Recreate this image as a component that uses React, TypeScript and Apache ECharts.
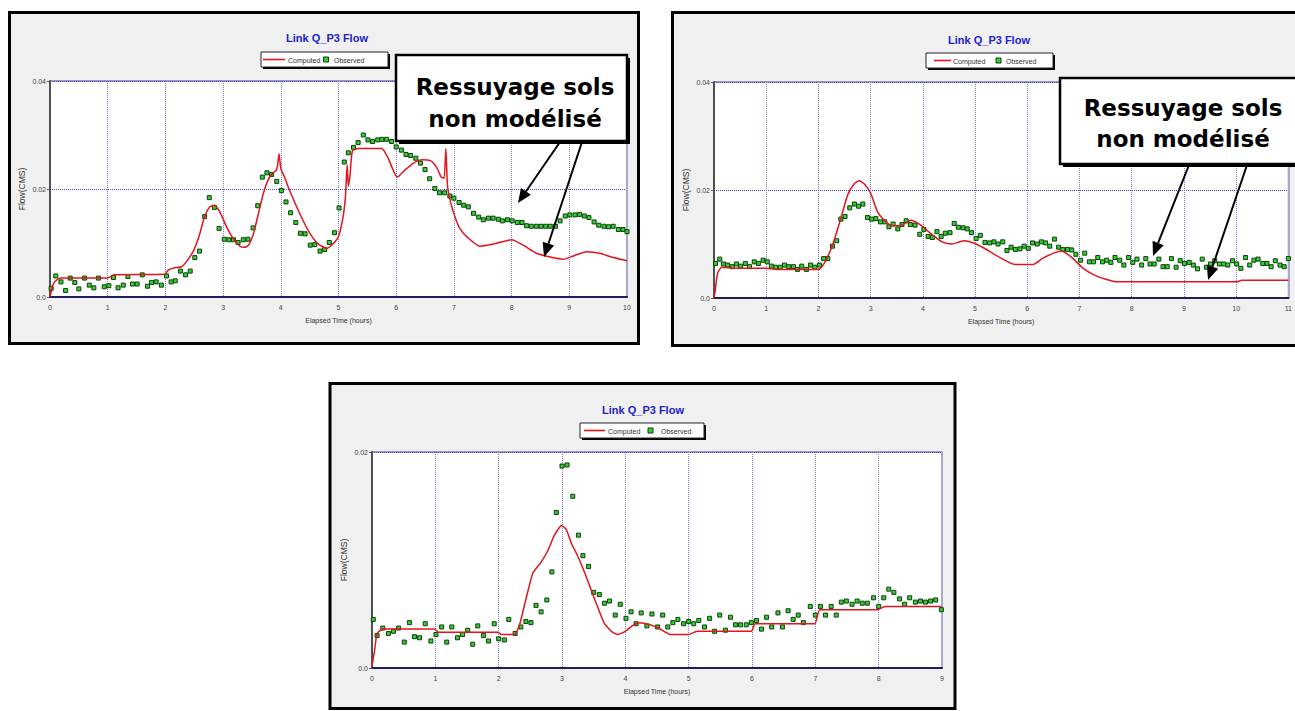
import React, { useEffect, useRef } from 'react';
import * as echarts from 'echarts';

const titleText = 'Link Q_P3 Flow';
const computedName = 'Computed';
const observedName = 'Observed';
const xAxisName = 'Elapsed Time (hours)';
const yAxisName = 'Flow(CMS)';
const noteLines = ['Ressuyage sols', 'non modélisé'];

const xMaxes = [10, 11, 9];
const yMaxes = [0.04, 0.04, 0.02];

// Chart 1 (top left)
const obs1 = [[0.02,0.0016],[0.1,0.0039],[0.19,0.0028],[0.27,0.0012],[0.35,0.0035],[0.43,0.0027],[0.5,0.0015],[0.6,0.0035],[0.68,0.0022],[0.76,0.0017],[0.84,0.0035],[0.94,0.0019],[1.02,0.0021],[1.1,0.0036],[1.18,0.0017],[1.27,0.0022],[1.35,0.0038],[1.43,0.0024],[1.51,0.0024],[1.6,0.0041],[1.69,0.002],[1.76,0.0027],[1.84,0.0028],[1.93,0.0022],[2.02,0.0039],[2.1,0.0028],[2.17,0.003],[2.26,0.0048],[2.35,0.0041],[2.43,0.0048],[2.51,0.0073],[2.59,0.0085],[2.68,0.0149],[2.76,0.0184],[2.85,0.0166],[2.93,0.0127],[3.02,0.0107],[3.1,0.0106],[3.18,0.0106],[3.26,0.0101],[3.35,0.0106],[3.43,0.0107],[3.52,0.0128],[3.6,0.0169],[3.68,0.0222],[3.76,0.023],[3.84,0.0227],[3.93,0.0214],[4.01,0.0197],[4.09,0.0176],[4.17,0.0156],[4.26,0.0138],[4.34,0.0118],[4.42,0.0117],[4.51,0.0096],[4.59,0.0097],[4.68,0.0085],[4.76,0.0088],[4.84,0.0101],[4.93,0.0119],[5.01,0.0165],[5.1,0.025],[5.17,0.0267],[5.26,0.0277],[5.34,0.0286],[5.43,0.03],[5.51,0.0291],[5.59,0.0288],[5.68,0.0291],[5.75,0.0292],[5.83,0.0292],[5.92,0.0288],[6.0,0.0278],[6.09,0.0272],[6.17,0.0264],[6.25,0.0262],[6.34,0.0257],[6.42,0.0248],[6.5,0.0236],[6.58,0.0219],[6.67,0.0201],[6.75,0.0193],[6.84,0.0193],[6.93,0.0187],[7.0,0.0183],[7.09,0.0175],[7.17,0.017],[7.25,0.0167],[7.34,0.0155],[7.43,0.0148],[7.51,0.0143],[7.6,0.0146],[7.68,0.0146],[7.77,0.0144],[7.84,0.0141],[7.93,0.0143],[8.01,0.0141],[8.1,0.0138],[8.18,0.0138],[8.26,0.0132],[8.34,0.0131],[8.43,0.0131],[8.51,0.0131],[8.59,0.0131],[8.67,0.0131],[8.76,0.0131],[8.84,0.0141],[8.93,0.015],[9.01,0.0152],[9.1,0.0152],[9.18,0.0153],[9.26,0.015],[9.34,0.0147],[9.43,0.0139],[9.51,0.0133],[9.6,0.0131],[9.68,0.013],[9.76,0.0131],[9.85,0.0125],[9.93,0.0125],[10.0,0.0121]];
const comp1 = [[0,0],[0.05,0.0022],[0.11,0.0031],[0.2,0.0035],[1.0,0.0035],[1.11,0.0041],[1.99,0.0042],[2.05,0.005],[2.16,0.0054],[2.28,0.0056],[2.36,0.0065],[2.48,0.0084],[2.59,0.0115],[2.68,0.0149],[2.77,0.0167],[2.85,0.017],[2.94,0.0158],[3.06,0.013],[3.17,0.0109],[3.29,0.0094],[3.37,0.0092],[3.44,0.0096],[3.52,0.0115],[3.6,0.0149],[3.69,0.0189],[3.78,0.0217],[3.86,0.0229],[3.93,0.0236],[3.97,0.0265],[4.0,0.0238],[4.06,0.0223],[4.15,0.0198],[4.3,0.0161],[4.47,0.0124],[4.64,0.0099],[4.8,0.009],[4.91,0.0099],[5.0,0.0112],[5.08,0.0149],[5.12,0.0185],[5.15,0.0245],[5.17,0.0205],[5.2,0.0225],[5.24,0.027],[5.34,0.0275],[5.75,0.0275],[5.86,0.0257],[6.02,0.0222],[6.15,0.0235],[6.3,0.0248],[6.45,0.0254],[6.6,0.0252],[6.7,0.024],[6.78,0.0222],[6.83,0.022],[6.86,0.0275],[6.89,0.0205],[6.95,0.0172],[7.02,0.0148],[7.1,0.0127],[7.25,0.0109],[7.45,0.0094],[7.68,0.0098],[8.0,0.0106],[8.2,0.0096],[8.43,0.0081],[8.67,0.0074],[8.9,0.007],[9.07,0.0076],[9.3,0.0084],[9.53,0.0081],[9.73,0.0074],[10.0,0.0067]];

// Chart 2 (top right)
const obs2 = [[0.03,0.0064],[0.11,0.0072],[0.18,0.0063],[0.26,0.0061],[0.35,0.0058],[0.43,0.0063],[0.51,0.0059],[0.6,0.0064],[0.68,0.0058],[0.77,0.0067],[0.85,0.0064],[0.94,0.007],[1.02,0.0067],[1.1,0.0059],[1.18,0.0057],[1.27,0.0057],[1.35,0.0061],[1.43,0.0058],[1.52,0.0058],[1.6,0.0053],[1.68,0.0059],[1.77,0.0053],[1.85,0.0061],[1.93,0.0057],[2.02,0.0061],[2.1,0.0073],[2.18,0.0073],[2.27,0.0096],[2.35,0.0106],[2.43,0.0146],[2.51,0.0151],[2.6,0.0167],[2.69,0.0174],[2.77,0.017],[2.85,0.0174],[2.94,0.0149],[3.02,0.0146],[3.1,0.0147],[3.19,0.0141],[3.27,0.0141],[3.35,0.0132],[3.43,0.0137],[3.52,0.0128],[3.6,0.0136],[3.68,0.0143],[3.76,0.0136],[3.85,0.0135],[3.94,0.0118],[4.02,0.0127],[4.1,0.0114],[4.18,0.0112],[4.27,0.0123],[4.35,0.0114],[4.43,0.012],[4.52,0.0121],[4.6,0.0138],[4.68,0.0131],[4.77,0.013],[4.85,0.0128],[4.93,0.0121],[5.02,0.011],[5.1,0.0116],[5.19,0.0103],[5.28,0.0102],[5.36,0.0104],[5.44,0.01],[5.53,0.0104],[5.61,0.0088],[5.69,0.0094],[5.77,0.009],[5.86,0.0091],[5.94,0.0096],[6.02,0.0092],[6.1,0.0102],[6.19,0.01],[6.27,0.0104],[6.35,0.0102],[6.43,0.0096],[6.52,0.0109],[6.6,0.0094],[6.68,0.009],[6.77,0.009],[6.85,0.0089],[6.93,0.0081],[7.02,0.007],[7.1,0.0083],[7.19,0.0067],[7.27,0.0067],[7.35,0.0075],[7.44,0.0067],[7.52,0.007],[7.6,0.0066],[7.68,0.0075],[7.77,0.007],[7.85,0.0061],[7.94,0.0075],[8.02,0.0066],[8.1,0.0072],[8.19,0.0061],[8.27,0.0073],[8.35,0.0063],[8.43,0.0063],[8.52,0.0072],[8.6,0.0058],[8.68,0.0058],[8.76,0.0073],[8.85,0.0057],[8.93,0.0069],[9.01,0.0064],[9.1,0.0066],[9.18,0.0061],[9.26,0.0054],[9.35,0.0072],[9.43,0.0057],[9.51,0.0063],[9.59,0.0069],[9.68,0.0063],[9.76,0.0063],[9.84,0.0061],[9.93,0.0069],[10.01,0.0063],[10.09,0.0055],[10.18,0.0075],[10.26,0.0061],[10.34,0.007],[10.42,0.0072],[10.51,0.0064],[10.59,0.0064],[10.67,0.0058],[10.75,0.0069],[10.84,0.0061],[10.92,0.0058],[11.0,0.0073]];
const comp2 = [[0,0],[0.02,0.0012],[0.07,0.0046],[0.15,0.0057],[0.43,0.0055],[1.0,0.0055],[1.19,0.0053],[2.0,0.0053],[2.11,0.0064],[2.27,0.0098],[2.43,0.0148],[2.56,0.0191],[2.69,0.0212],[2.78,0.0217],[2.88,0.0211],[3.0,0.0194],[3.13,0.016],[3.26,0.0144],[3.42,0.0134],[3.6,0.0135],[3.77,0.0144],[3.96,0.0135],[4.18,0.0117],[4.37,0.0104],[4.56,0.01],[4.78,0.0106],[4.97,0.0102],[5.16,0.0093],[5.42,0.0078],[5.77,0.0062],[6.11,0.0062],[6.3,0.0074],[6.53,0.0084],[6.65,0.0087],[6.84,0.0076],[7.07,0.0055],[7.32,0.0041],[7.57,0.0033],[7.73,0.003],[10.02,0.003],[10.11,0.0033],[11.0,0.0033]];

// Chart 3 (bottom)
const obs3 = [[0.02,0.0045],[0.08,0.003],[0.17,0.0037],[0.26,0.0032],[0.34,0.0034],[0.42,0.0037],[0.51,0.0024],[0.59,0.0042],[0.67,0.0029],[0.75,0.0028],[0.84,0.0041],[0.93,0.0025],[1.01,0.0031],[1.1,0.0038],[1.18,0.0024],[1.26,0.0038],[1.35,0.0028],[1.43,0.0031],[1.51,0.0035],[1.59,0.0022],[1.67,0.0039],[1.76,0.003],[1.84,0.0025],[1.93,0.0041],[2.0,0.0027],[2.09,0.0026],[2.16,0.0045],[2.26,0.0032],[2.35,0.0038],[2.43,0.0043],[2.51,0.0042],[2.59,0.0058],[2.67,0.0052],[2.76,0.0063],[2.84,0.0089],[2.91,0.0144],[3.0,0.0187],[3.08,0.0188],[3.17,0.0159],[3.26,0.0123],[3.33,0.0104],[3.42,0.0094],[3.5,0.007],[3.59,0.0068],[3.67,0.006],[3.75,0.0062],[3.84,0.0049],[3.92,0.0059],[4.01,0.0046],[4.09,0.0052],[4.17,0.0041],[4.25,0.0051],[4.34,0.0039],[4.42,0.005],[4.51,0.0038],[4.59,0.0049],[4.67,0.0038],[4.75,0.0042],[4.83,0.0045],[4.92,0.0041],[5.0,0.0043],[5.08,0.0041],[5.16,0.0044],[5.25,0.0038],[5.33,0.0046],[5.41,0.0034],[5.49,0.0049],[5.58,0.0035],[5.66,0.0047],[5.74,0.004],[5.82,0.004],[5.91,0.004],[5.99,0.0042],[6.07,0.0044],[6.15,0.0036],[6.23,0.0047],[6.31,0.0038],[6.41,0.0051],[6.48,0.0038],[6.57,0.0053],[6.65,0.0045],[6.73,0.0049],[6.81,0.0042],[6.92,0.0057],[7.0,0.0049],[7.08,0.0057],[7.16,0.0049],[7.25,0.0057],[7.33,0.0049],[7.41,0.0061],[7.49,0.0062],[7.58,0.0059],[7.66,0.0062],[7.74,0.006],[7.82,0.006],[7.92,0.0065],[8.0,0.0057],[8.08,0.0065],[8.16,0.0073],[8.24,0.007],[8.33,0.0064],[8.41,0.0059],[8.49,0.0065],[8.58,0.0061],[8.66,0.0062],[8.74,0.0061],[8.82,0.0062],[8.9,0.0063],[8.99,0.0054]];
const comp3 = [[0,0.0002],[0.04,0.0016],[0.08,0.0032],[0.17,0.0036],[0.99,0.0036],[1.05,0.0033],[1.99,0.0033],[2.04,0.0031],[2.25,0.0031],[2.33,0.004],[2.44,0.0066],[2.54,0.0088],[2.67,0.0098],[2.78,0.0109],[2.88,0.0123],[2.99,0.0132],[3.07,0.0128],[3.15,0.0115],[3.23,0.0106],[3.36,0.0088],[3.52,0.0063],[3.67,0.0041],[3.8,0.0033],[3.88,0.0031],[4.0,0.0034],[4.13,0.004],[4.23,0.0042],[4.39,0.004],[4.52,0.0037],[4.71,0.0031],[5.0,0.0031],[5.13,0.0034],[5.99,0.0034],[6.05,0.0041],[6.99,0.0041],[7.07,0.0054],[7.98,0.0054],[8.1,0.0057],[8.99,0.0057]];

const observedSets = [obs1, obs2, obs3];
const computedSets = [comp1, comp2, comp3];

const FONT = '"Liberation Sans", Arial, sans-serif';
const RED = '#e3141b';
const GREEN = '#2fd12f';
const GREEN_EDGE = '#123d12';

// layout
const gridBoxes = [
  { left: 50, top: 81, width: 577, height: 216 },
  { left: 714, top: 82, width: 578, height: 216 },
  { left: 372, top: 452, width: 570, height: 216 },
];
const frames = [
  { x: 9.5, y: 12.5, w: 629, h: 331 },
  { x: 672.5, y: 12.5, w: 700, h: 333 },
  { x: 330, y: 383.5, w: 625, h: 325 },
];
const titles = [
  { cx: 327, top: 32 },
  { cx: 989, top: 34 },
  { cx: 643, top: 404 },
];
const legends = [
  { x: 261, y: 52, w: 127, l0: 263, l1: 285, t1: 288, sq: 323.5, t2: 334 },
  { x: 926, y: 53, w: 127, l0: 934, l1: 951, t1: 953, sq: 996, t2: 1006 },
  { x: 580, y: 423, w: 124, l0: 584, l1: 605, t1: 608, sq: 648, t2: 661 },
];
const notes = [
  { x: 396, y: 55, w: 231, h: 86, cx: 515, y1: 87, y2: 118.5,
    arrows: [[560, 142, 518, 203], [582, 142, 544, 257]] },
  { x: 1060, y: 78, w: 260, h: 86, cx: 1183, y1: 108, y2: 139,
    arrows: [[1189, 165, 1153, 256], [1247, 165, 1208, 280]] },
];

function arrowElems(a: number[]) {
  const [x0, y0, x1, y1] = a;
  const dx = x1 - x0, dy = y1 - y0;
  const len = Math.sqrt(dx * dx + dy * dy);
  const ux = dx / len, uy = dy / len;
  const bx = x1 - 14 * ux, by = y1 - 14 * uy;
  const nx = -uy, ny = ux;
  return [
    { type: 'line', z: 100, shape: { x1: x0, y1: y0, x2: bx, y2: by }, style: { stroke: '#000', lineWidth: 2 } },
    { type: 'polygon', z: 100, shape: { points: [[x1, y1], [bx + 6 * nx, by + 6 * ny], [bx - 6 * nx, by - 6 * ny]] }, style: { fill: '#000' } },
  ];
}

function buildOption() {
  const graphic: any[] = [];
  frames.forEach((f) => {
    graphic.push({ type: 'rect', z: -10, shape: { x: f.x, y: f.y, width: f.w, height: f.h }, style: { fill: '#f0f0f0', stroke: '#000', lineWidth: 3 } });
  });
  legends.forEach((g) => {
    graphic.push({ type: 'rect', z: 50, shape: { x: g.x + 2, y: g.y + 2, width: g.w, height: 15 }, style: { fill: '#000' } });
    graphic.push({ type: 'rect', z: 51, shape: { x: g.x, y: g.y, width: g.w, height: 15 }, style: { fill: '#fff', stroke: '#222', lineWidth: 1 } });
    graphic.push({ type: 'line', z: 52, shape: { x1: g.l0, y1: g.y + 7.5, x2: g.l1, y2: g.y + 7.5 }, style: { stroke: RED, lineWidth: 1.6 } });
    graphic.push({ type: 'text', z: 52, x: g.t1, y: g.y + 8, style: { text: computedName, fontSize: 7, fontFamily: FONT, fill: '#333', textVerticalAlign: 'middle', verticalAlign: 'middle' } });
    graphic.push({ type: 'rect', z: 52, shape: { x: g.sq, y: g.y + 5, width: 5, height: 5 }, style: { fill: GREEN, stroke: GREEN_EDGE, lineWidth: 1 } });
    graphic.push({ type: 'text', z: 52, x: g.t2, y: g.y + 8, style: { text: observedName, fontSize: 7, fontFamily: FONT, fill: '#333', textVerticalAlign: 'middle', verticalAlign: 'middle' } });
  });
  notes.forEach((n) => {
    graphic.push({ type: 'rect', z: 100, shape: { x: n.x + 3, y: n.y + 3, width: n.w, height: n.h }, style: { fill: '#000' } });
    graphic.push({ type: 'rect', z: 101, shape: { x: n.x, y: n.y, width: n.w, height: n.h }, style: { fill: '#fff', stroke: '#000', lineWidth: 2.5 } });
    [n.y1, n.y2].forEach((yy, i) => {
      graphic.push({ type: 'text', z: 102, x: n.cx, y: yy, style: { text: noteLines[i], fontSize: 23, fontWeight: 'bold', fontFamily: '"DejaVu Sans", Verdana, sans-serif', fill: '#000', textAlign: 'center', align: 'center', textVerticalAlign: 'middle', verticalAlign: 'middle' } });
    });
    n.arrows.forEach((a) => arrowElems(a).forEach((e) => graphic.push(e)));
  });

  const grid = gridBoxes.map((g) => ({ ...g, show: true, backgroundColor: '#fff', borderColor: '#3c3c8c', borderWidth: 1, containLabel: false }));
  const xAxis = gridBoxes.map((_, i) => ({
    gridIndex: i, type: 'value', min: 0, max: xMaxes[i], interval: 1,
    axisLine: { show: true, onZero: false, lineStyle: { color: '#1e1e5a', width: 2 } },
    axisTick: { show: false },
    axisLabel: { fontSize: 7, color: '#444', margin: 7, fontFamily: FONT },
    splitLine: { show: true, lineStyle: { type: 'dotted', color: '#7878d0', width: 1 } },
    name: xAxisName, nameLocation: 'middle', nameGap: 20,
    nameTextStyle: { fontSize: 7, color: '#333', fontFamily: FONT },
  }));
  const yAxisLeft = gridBoxes.map((_, i) => ({
    gridIndex: i, type: 'value', min: 0, max: yMaxes[i], interval: 0.02,
    axisLine: { show: true, onZero: false, lineStyle: { color: '#505050', width: 2 } },
    axisTick: { show: true, length: 3, lineStyle: { color: '#555' } },
    axisLabel: { fontSize: 7, color: '#444', margin: 4, fontFamily: FONT, formatter: (v: number) => (v === 0 ? '0.0' : v.toFixed(2)) },
    splitLine: { show: true, lineStyle: { type: 'dotted', color: '#4a4ad0', width: 1 } },
    name: yAxisName, nameLocation: 'middle', nameGap: 24, nameRotate: 90,
    nameTextStyle: { fontSize: 8.5, color: '#333', fontFamily: FONT },
  }));
  const yAxisRight = gridBoxes.map((_, i) => ({
    gridIndex: i, type: 'value', position: 'right', min: 0, max: 1,
    axisLine: { show: true, onZero: false, lineStyle: { color: '#a8a8d4', width: 2 } },
    axisTick: { show: false }, axisLabel: { show: false }, splitLine: { show: false },
  }));

  const series: any[] = [];
  gridBoxes.forEach((_, i) => {
    series.push({
      type: 'line', name: computedName, xAxisIndex: i, yAxisIndex: i, data: computedSets[i],
      symbol: 'none', smooth: i === 2 ? 0.15 : 0.2,
      lineStyle: { color: RED, width: 1.5 }, itemStyle: { color: RED },
    });
    series.push({
      type: 'scatter', name: observedName, xAxisIndex: i, yAxisIndex: i, data: observedSets[i],
      symbol: 'rect', symbolSize: 4,
      itemStyle: { color: GREEN, borderColor: GREEN_EDGE, borderWidth: 1, opacity: 1 },
    });
  });

  return {
    animation: false,
    backgroundColor: '#fff',
    title: titles.map((t) => ({
      text: titleText, left: t.cx, top: t.top, textAlign: 'center', padding: 0,
      textStyle: { color: '#2222cc', fontSize: 11, fontWeight: 'bold', fontFamily: FONT },
    })),
    grid,
    xAxis,
    yAxis: [...yAxisLeft, ...yAxisRight],
    series,
    graphic: { elements: graphic },
  };
}

export default function App() {
  const ref = useRef<HTMLDivElement>(null);
  useEffect(() => {
    if (!ref.current) return;
    const chart = echarts.init(ref.current, null, { renderer: 'svg' });
    chart.setOption(buildOption() as any);
    return () => chart.dispose();
  }, []);
  return (
    <div
      ref={ref}
      style={{ position: 'absolute', left: 0, top: 0, width: 1295, height: 711, background: '#fff' }}
    />
  );
}
